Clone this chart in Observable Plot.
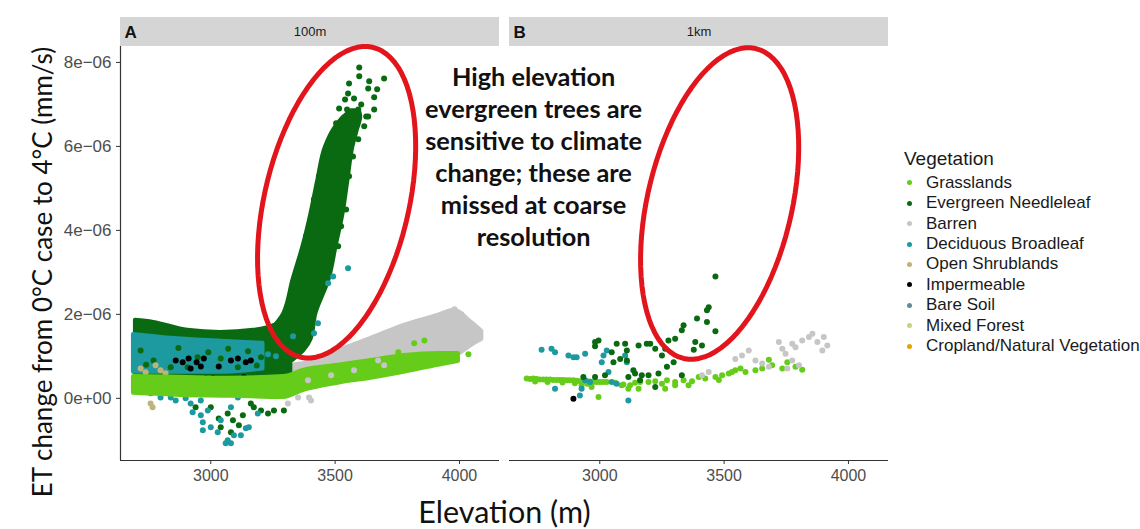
<!DOCTYPE html>
<html><head><meta charset="utf-8">
<script src="https://cdn.jsdelivr.net/npm/d3@7"></script>
<script src="https://cdn.jsdelivr.net/npm/@observablehq/plot@0.6"></script>
<style>
body{margin:0;background:#fff;}
#wrap{position:relative;width:1140px;height:529px;overflow:hidden;background:#fff;}
#chart{position:absolute;left:0;top:0;}
#legend{position:absolute;left:904px;top:147px;font-family:"Liberation Sans",Arial,sans-serif;color:#1a1a1a;white-space:nowrap;}
#legend .ttl{font-size:19px;line-height:24px;height:24px;margin-bottom:1.8px;}
#legend .row{position:relative;font-size:17px;line-height:20.4px;height:20.4px;padding-left:22px;}
#legend .sw{position:absolute;left:2.5px;top:7.7px;width:5px;height:5px;border-radius:50%;}
</style></head><body>
<div id="wrap"><div id="chart"></div><div id="legend"></div></div>
<script>
// ---------- categories / scales ----------
const vegetation = ["Grasslands","Evergreen Needleleaf","Barren","Deciduous Broadleaf","Open Shrublands","Impermeable","Bare Soil","Mixed Forest","Cropland/Natural Vegetation"];
const vegColors = ["#66cc1a","#0a6a12","#c6c6c6","#1d9aa0","#bdb47c","#000000","#5f8d9c","#c5d57c","#e0a500"];
const facets = ["100m","1km"];
const facetLetters = ["A","B"];
const xTicks = [3000,3500,4000];
const yTicks = [0,2,4,6,8];
const xDomain = [2637,4161];
const yDomain = [-1.48,9.07];
const panelTop = 8.38;
const annotationLines = ["High elevation","evergreen trees are","sensitive to climate","change; these are","missed at coarse","resolution"];
const annotationPos = [4298,5.78];
const xTitle = "Elevation (m)";
const xTitlePos = 4181;
const yTitle = "ET change from 0°C case to 4°C (mm/s)";
const legendTitle = "Vegetation";

// ---------- panel A (100m): dense clouds as bands [elev, low, high] (ET in 1e-06 mm/s) ----------
const barrenBandA = [[3322,0.14,0.79],[3375,0.24,0.83],[3512,0.52,1.14],[3645,0.71,1.43],[3778,0.86,1.74],[3915,0.95,1.98],[3980,1.00,2.10],[4048,1.26,1.81],[4090,1.40,1.60]];
const evergreenBandA = [[2697,0.45,1.86],[2770,0.45,1.81],[2907,0.45,1.62],[3040,0.40,1.57],[3173,0.30,1.62],[3262,0.10,1.75],[3322,0.15,2.00]];
// spike: [ET, elev left, elev right]
const evergreenSpikeA = [[0.90,3262,3330],[1.14,3230,3375],[1.40,3230,3403],[2.02,3294,3423],[2.83,3331,3476],[3.62,3371,3504],[4.40,3403,3532],[5.21,3431,3552],[6.00,3462,3572],[6.40,3495,3590],[6.70,3535,3603],[6.85,3565,3598]];
const deciduousBandA = [[2689,0.62,1.52],[2839,0.62,1.43],[3040,0.62,1.36],[3210,0.70,1.31]];
const grassBandA = [[2689,0.12,0.52],[2879,0.07,0.50],[3081,0.05,0.48],[3294,0.02,0.52],[3375,0.19,0.67],[3512,0.36,0.79],[3645,0.48,0.90],[3778,0.62,1.02],[3915,0.79,1.07],[3996,0.88,1.07]];

// ---------- panel A scattered points [elev, ET] ----------
const evergreenPtsA = [[3597,7.88],[3597,7.67],[3556,7.50],[3637,7.55],[3697,7.62],[3669,7.36],[3633,7.38],[3552,7.26],[3576,7.14],[3540,7.12],[3657,7.17],[3605,7.00],[3516,6.90],[3548,6.88],[3593,6.88],[3657,6.88],[3625,6.71],[3504,6.55],[3492,6.31],[3544,4.50],[3415,4.74],[3371,3.38],
 [3383,3.86],[3411,4.50],[3435,5.29],[3456,5.69],[3476,6.00],[3524,4.10],[3512,3.62],[3556,5.29],[3572,5.76],[3593,6.17],[3617,6.48],[3633,6.71],
 [3040,-0.69],[3081,-0.81],[3113,-0.64],[3068,-0.36],[3000,-0.21],[3161,-0.12],[3202,-0.29],[3230,-0.36],[3254,-0.29],[3294,-0.29],[3129,-0.40],[3032,-0.48],[3173,-0.21],[2939,-0.21],[3089,-0.52],
 [2718,1.14],[2770,0.90],[2907,0.74],[2947,0.98],[3040,0.95],[3109,0.74],[3202,0.98],[3234,0.74],[2839,0.74],[2990,1.10],[3150,1.12],[2870,1.20],[3070,1.18],[2740,0.80],[3185,0.78]];
const deciduousPtsA = [[3552,3.10],[3492,2.90],[3472,2.74],[3431,1.79],[3415,1.55],[3331,1.48],[3230,1.05],[3262,1.00],
 [2839,0.02],[2859,-0.05],[2919,-0.12],[2927,-0.33],[2960,-0.40],[2968,-0.57],[3000,-0.69],[2968,-0.76],[3028,-0.81],[3068,-1.00],[3093,-0.88],[3121,-0.88],[3141,-0.71],[3153,-0.69],[3040,-0.52],[2988,-0.29],[3081,-0.21],[3189,-0.36],[3109,0.02],[2960,-0.05],[2899,0.00],[2798,0.02],[2758,0.12],[3060,-1.07],[3081,-1.07]];
const impermeablePtsA = [[2859,0.90],[2887,0.86],[2911,0.95],[2943,0.86],[2972,0.95],[2960,0.76],[3008,0.48],[3081,0.90],[3109,0.95],[3141,0.86],[3161,0.90],[3032,0.76],[3133,0.50],[2980,0.48],[2919,0.71]];
const shrubPtsA = [[2766,-0.21],[2758,-0.12],[2798,0.67],[2778,0.79],[2718,0.71],[2738,0.62],[2818,0.60]];
const grassPtsA = [[3859,1.38],[3818,1.31],[3754,1.10],[4036,1.05]];
const barrenPtsA = [[3351,0.02],[3403,-0.05],[3395,0.02],[3310,-0.12],[3673,0.90],[3697,0.79],[3576,0.67],[3484,0.55],[3391,0.43],[3980,2.12],[4008,2.00]];

// ---------- panel B (1km) points [elev, ET] ----------
const grassPtsB = [[2706,0.47],[2720,0.46],[2733,0.47],[2746,0.46],[2759,0.45],[2773,0.45],[2786,0.45],[2800,0.45],[2813,0.44],[2827,0.44],[2840,0.44],[2853,0.44],[2867,0.43],[2880,0.43],[2894,0.43],[2907,0.42],[2920,0.41],[2934,0.41],[2947,0.41],[2960,0.40],[2974,0.39],[2988,0.39],[3001,0.39],[3015,0.39],[3028,0.39],[3062,0.37],[3095,0.33],[3122,0.31],[3142,0.37],[3162,0.39],[3196,0.39],[3223,0.41],[3250,0.35],[3270,0.43],[3303,0.39],[3337,0.43],[3371,0.41],[3398,0.51],[3424,0.47],[3465,0.51],[3492,0.55],[3519,0.59],[3545,0.67],[3566,0.71],[3586,0.63],[3626,0.67],[3653,0.71],[3680,0.92],[3693,0.79],[3734,0.71],[3754,0.86],[3787,0.75],[3814,0.68],
 [2995,0.03],[3088,0.31],[3115,0.23],[3156,0.23],[3263,0.23],[3303,0.31],[3357,0.31],[3479,0.44],[3532,0.63],[2740,0.40],[2790,0.39],[2850,0.38],[2900,0.36],[2950,0.35],[2927,0.31],[2967,0.27]];
const barrenPtsB = [[3545,0.94],[3572,1.02],[3599,1.14],[3626,0.90],[3653,0.83],[3680,0.75],[3720,1.34],[3734,1.18],[3747,1.06],[3774,1.30],[3787,1.22],[3814,1.38],[3841,1.46],[3855,1.54],[3875,1.34],[3895,1.14],[3915,1.26],[3901,1.46],[3411,0.55],[3438,0.63],[3774,0.90],[3801,0.79],[3754,0.71]];
const deciduousPtsB = [[2766,1.16],[2806,1.18],[2820,1.10],[2874,1.02],[2894,0.98],[2907,0.98],[2941,1.06],[3015,1.02],[3008,0.86],[3028,1.14],[3102,1.02],[3109,0.86],[3035,0.63],[3048,0.39],[3068,0.35],[2820,0.23],[2927,0.23],[2920,0.07],[3115,-0.05],[2941,0.43],[2961,0.39]];
const evergreenPtsB = [[3465,2.90],[3438,2.17],[3431,2.10],[3391,1.90],[3431,1.82],[3465,1.60],[3337,1.74],[3330,1.62],[3303,1.42],[3276,1.38],[3384,1.34],[3378,1.16],[3411,1.26],[3263,1.18],[3297,0.86],[3270,0.75],[3223,1.18],[3203,1.30],[3156,1.26],[3102,1.30],[3068,1.30],[2981,1.34],[2981,1.24],[3048,1.10],[3109,1.14],[3082,0.94],[3142,0.59],[3115,0.51],[3169,0.55],[3196,0.55],[3236,0.59],[3223,0.27],[3330,0.55],[2981,0.51],[2934,0.51],[3021,0.55],[3055,0.86],[3109,0.90],[3135,0.67],[2995,1.38],[3189,1.30],[3250,1.02],[3162,0.43]];
const impermeablePtsB = [[2894,-0.01]];

// ---------- red ellipse annotation (data units) ----------
const ellipseCenters = [[3506,4.67],[3482,4.64]];
const ellipseMajor = [145,3.69];
const ellipseMinor = [283,-0.388];

// ---------- build tables ----------
const pts = (arr, facet, veg) => arr.map(([elev, et]) => ({facet, veg, elev, et}));
const band = (arr, facet, veg) => arr.map(([elev, lo, hi]) => ({facet, veg, elev, lo, hi}));
const spike = evergreenSpikeA.map(([et, x1, x2]) => ({facet: facets[0], veg: vegetation[1], et, x1, x2}));
const facetRows = facets.map((f, i) => ({facet: f, label: f, letter: facetLetters[i]}));
const ellipseRows = [];
facets.forEach((f, i) => {
  const [cx, cy] = ellipseCenters[i];
  for (let k = 0; k <= 90; k++) {
    const t = 2 * Math.PI * k / 90;
    ellipseRows.push({facet: f,
      elev: cx + ellipseMajor[0] * Math.cos(t) + ellipseMinor[0] * Math.sin(t),
      et: cy + ellipseMajor[1] * Math.cos(t) + ellipseMinor[1] * Math.sin(t)});
  }
});
const A = facets[0], B = facets[1];
const V = vegetation;
const fmtY = d => d === 0 ? "0e+00" : `${d}e\u221206`;
const fmtX = d => String(d);

const bandOpts = {fx: "facet", x: "elev", y1: "lo", y2: "hi", fill: "veg", stroke: "veg", strokeWidth: 4, strokeLinejoin: "round", curve: "monotone-x"};
const dotOpts = {fx: "facet", x: "elev", y: "et", fill: "veg", r: 3};
const titleFont = "Lato, 'Open Sans', sans-serif";

const plot = Plot.plot({
  width: 890, height: 529,
  marginTop: 17, marginLeft: 120, marginRight: 2, marginBottom: 69,
  style: {fontFamily: "'Liberation Sans', Arial, sans-serif", background: "#fff", color: "#4d4d4d"},
  fx: {domain: facets, paddingInner: 10/389, paddingOuter: 0, axis: null},
  x: {domain: xDomain, axis: null},
  y: {domain: yDomain, axis: null},
  color: {domain: vegetation, range: vegColors},
  marks: [
    Plot.rect(facetRows, {fx: "facet", x1: xDomain[0], x2: xDomain[1], y1: panelTop, y2: yDomain[1], fill: "#d5d5d5"}),
    Plot.areaY(band(barrenBandA, A, V[2]), bandOpts),
    Plot.areaY(band(evergreenBandA, A, V[1]), bandOpts),
    Plot.areaX(spike, {fx: "facet", y: "et", x1: "x1", x2: "x2", fill: "veg", stroke: "veg", strokeWidth: 4, strokeLinejoin: "round", curve: "monotone-y"}),
    Plot.areaY(band(deciduousBandA, A, V[3]), bandOpts),
    Plot.dot(pts(evergreenPtsA, A, V[1]), dotOpts),
    Plot.dot(pts(deciduousPtsA, A, V[3]), dotOpts),
    Plot.dot(pts(impermeablePtsA, A, V[5]), dotOpts),
    Plot.dot(pts(shrubPtsA, A, V[4]), dotOpts),
    Plot.areaY(band(grassBandA, A, V[0]), bandOpts),
    Plot.dot(pts(grassPtsA, A, V[0]), dotOpts),
    Plot.dot(pts(barrenPtsA, A, V[2]), dotOpts),
    Plot.dot(pts(grassPtsB, B, V[0]), dotOpts),
    Plot.dot(pts(barrenPtsB, B, V[2]), dotOpts),
    Plot.dot(pts(deciduousPtsB, B, V[3]), dotOpts),
    Plot.dot(pts(evergreenPtsB, B, V[1]), dotOpts),
    Plot.dot(pts(impermeablePtsB, B, V[5]), dotOpts),
    Plot.line(ellipseRows, {fx: "facet", x: "elev", y: "et", z: "facet", curve: "linear-closed", stroke: "#e3151c", strokeWidth: 5}),
    Plot.text([{facet: A}], {fx: "facet", x: () => annotationPos[0], y: () => annotationPos[1], text: () => annotationLines.join("\n"),
      fontFamily: titleFont, fontWeight: "bold", fontSize: 25.3, lineHeight: 1.26, fill: "#111", textAnchor: "middle", lineAnchor: "middle"}),
    // axes
    Plot.ruleX([{facet: A}], {fx: "facet", x: () => xDomain[0], y1: () => yDomain[0], y2: () => panelTop, stroke: "#333", strokeWidth: 1.2}),
    Plot.ruleY(facetRows, {fx: "facet", y: () => yDomain[0], x1: () => xDomain[0], x2: () => xDomain[1], stroke: "#333", strokeWidth: 1.2}),
    Plot.axisY(yTicks, {anchor: "left", facetAnchor: "left", tickFormat: fmtY, tickSize: 4, tickPadding: 5, fontSize: 17, stroke: "#333", fill: "#4d4d4d", label: null}),
    Plot.axisX(xTicks, {anchor: "bottom", facetAnchor: "bottom", tickFormat: fmtX, tickSize: 4, tickPadding: 5, fontSize: 16, stroke: "#333", fill: "#4d4d4d", label: null}),
    // strip labels
    Plot.text(facetRows, {fx: "facet", frameAnchor: "top", dy: 14.5, lineAnchor: "middle", text: "label", fontSize: 13, fill: "#1a1a1a"}),
    Plot.text(facetRows, {fx: "facet", frameAnchor: "top-left", dx: 4, dy: 15.5, lineAnchor: "middle", text: "letter", fontSize: 17, fontWeight: "bold", fill: "#111", textAnchor: "start"}),
    // axis titles
    Plot.text([{facet: A}], {fx: "facet", x: () => xTitlePos, frameAnchor: "bottom", dy: 53, lineAnchor: "middle", text: () => xTitle, fontSize: 30.5, fontFamily: titleFont, fill: "#111"}),
    Plot.text([{facet: A}], {fx: "facet", frameAnchor: "left", rotate: -90, dx: -77, dy: 33, textAnchor: "middle", lineAnchor: "middle", text: () => yTitle, fontSize: 26, fontFamily: titleFont, fill: "#111"})
  ]
});
document.getElementById("chart").appendChild(plot);

// legend
const lg = document.getElementById("legend");
const t = document.createElement("div"); t.className = "ttl"; t.textContent = legendTitle; lg.appendChild(t);
vegetation.forEach((v, i) => {
  const r = document.createElement("div"); r.className = "row";
  const s = document.createElement("span"); s.className = "sw"; s.style.background = vegColors[i];
  r.appendChild(s); r.appendChild(document.createTextNode(v)); lg.appendChild(r);
});
</script>
</body></html>
